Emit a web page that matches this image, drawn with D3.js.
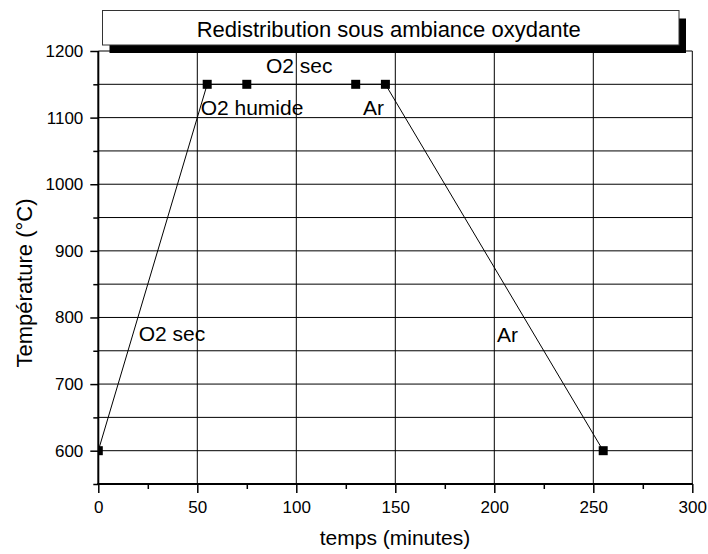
<!DOCTYPE html>
<html>
<head>
<meta charset="utf-8">
<script src="https://cdn.jsdelivr.net/npm/d3@7"></script>
<style>
  html, body { margin: 0; padding: 0; background: #fff; }
  svg { display: block; font-family: "Liberation Sans", Arial, sans-serif; }
</style>
</head>
<body>
<svg id="chart" width="708" height="554"></svg>
<script>
// Thermal cycle: time (minutes) and furnace temperature (°C)
const times = [0, 55, 75, 130, 145, 255];
const temperatures = [600, 1150, 1150, 1150, 1150, 600];

// Axis ticks
const xMajorTicks = [0, 50, 100, 150, 200, 250, 300];
const xMinorTicks = [25, 75, 125, 175, 225, 275];
const yMajorTicks = [600, 700, 800, 900, 1000, 1100, 1200];
const yMinorTicks = [550, 650, 750, 850, 950, 1050, 1150];

// Atmosphere labels placed along the cycle (time, temperature)
const phaseNames = ["O2 sec", "O2 humide", "O2 sec", "Ar", "Ar"];
const phaseTimes = [54, 51.7, 84.7, 133.7, 201.4];
const phaseTemps = [765, 1104, 1167, 1104, 763];
const phaseAnchors = ["end", "start", "start", "start", "start"];

const chartTitle = "Redistribution sous ambiance oxydante";
const xTitle = "temps (minutes)";
const yTitle = "Température (°C)";

const svg = d3.select("#chart");
const margin = { left: 98.3, right: 15.7, top: 51, bottom: 70 };
const W = 708, H = 554;

const x = d3.scaleLinear().domain([0, 300]).range([margin.left, W - margin.right]);
const y = d3.scaleLinear().domain([550, 1200]).range([H - margin.bottom, margin.top]);

// Grid lines at every 50 units
const grid = svg.append("g").attr("stroke", "#000").attr("stroke-width", 1);
grid.selectAll("line.h")
  .data(d3.range(600, 1201, 50))
  .join("line")
  .attr("x1", x(0)).attr("x2", x(300))
  .attr("y1", d => y(d)).attr("y2", d => y(d));
grid.selectAll("line.v")
  .data(d3.range(50, 301, 50))
  .join("line")
  .attr("y1", y(550)).attr("y2", y(1200))
  .attr("x1", d => x(d)).attr("x2", d => x(d));

// Clip marks to the plotting area
svg.append("clipPath").attr("id", "plotClip")
  .append("rect")
  .attr("x", x(0)).attr("y", y(1200))
  .attr("width", x(300) - x(0)).attr("height", y(550) - y(1200));

const pts = times.map((t, i) => ({ t, v: temperatures[i] }));
const plot = svg.append("g").attr("clip-path", "url(#plotClip)");
plot.append("path")
  .datum(pts)
  .attr("fill", "none")
  .attr("stroke", "#000")
  .attr("stroke-width", 1)
  .attr("d", d3.line().x(d => x(d.t)).y(d => y(d.v)));
const ms = 9;
plot.selectAll("rect.marker")
  .data(pts)
  .join("rect")
  .attr("class", "marker")
  .attr("x", d => x(d.t) - ms / 2)
  .attr("y", d => y(d.v) - ms / 2)
  .attr("width", ms).attr("height", ms)
  .attr("fill", "#000");

// Axes
function styleAxis(g, fontSize) {
  g.selectAll("text").attr("font-size", fontSize).attr("fill", "#000")
    .attr("font-family", "'Liberation Sans', Arial, sans-serif");
  g.selectAll("line").attr("stroke", "#000").attr("stroke-width", 1.5);
  g.select(".domain").remove();
}
const fmt = d3.format("d");

const gx = svg.append("g").attr("transform", `translate(0,${y(550)})`)
  .call(d3.axisBottom(x).tickValues(xMajorTicks).tickFormat(fmt).tickSize(9).tickPadding(8).tickSizeOuter(0));
styleAxis(gx, 17);
const gxm = svg.append("g").attr("transform", `translate(0,${y(550)})`)
  .call(d3.axisBottom(x).tickValues(xMinorTicks).tickSize(5).tickFormat("").tickSizeOuter(0));
styleAxis(gxm, 17);

const gy = svg.append("g").attr("transform", `translate(${x(0)},0)`)
  .call(d3.axisLeft(y).tickValues(yMajorTicks).tickFormat(fmt).tickSize(8).tickPadding(7).tickSizeOuter(0));
styleAxis(gy, 17);
const gym = svg.append("g").attr("transform", `translate(${x(0)},0)`)
  .call(d3.axisLeft(y).tickValues(yMinorTicks).tickSize(5).tickFormat("").tickSizeOuter(0));
styleAxis(gym, 17);

// Axis lines
svg.append("line")
  .attr("x1", x(0)).attr("x2", x(0)).attr("y1", y(550) + 1).attr("y2", y(1200))
  .attr("stroke", "#000").attr("stroke-width", 2);
svg.append("line")
  .attr("x1", x(0) - 1).attr("x2", x(300) + 0.5).attr("y1", y(550)).attr("y2", y(550))
  .attr("stroke", "#000").attr("stroke-width", 2);

// Phase labels
svg.selectAll("text.phase")
  .data(phaseNames)
  .join("text")
  .attr("class", "phase")
  .attr("x", (d, i) => x(phaseTimes[i]))
  .attr("y", (d, i) => y(phaseTemps[i]))
  .attr("text-anchor", (d, i) => phaseAnchors[i])
  .attr("font-size", 21)
  .attr("fill", "#000")
  .text(d => d);

// Axis titles
svg.append("text")
  .attr("x", 395).attr("y", 545)
  .attr("text-anchor", "middle").attr("font-size", 21)
  .text(xTitle);
svg.append("text")
  .attr("transform", "translate(32,283) rotate(-90)")
  .attr("text-anchor", "middle").attr("font-size", 22)
  .text(yTitle);

// Title box with drop shadow
const box = { x: 102.5, y: 10.5, w: 576.5, h: 34.5 };
svg.append("rect")
  .attr("x", box.x + 7).attr("y", box.y + 8)
  .attr("width", box.w).attr("height", box.h)
  .attr("fill", "#000");
svg.append("rect")
  .attr("x", box.x).attr("y", box.y)
  .attr("width", box.w).attr("height", box.h)
  .attr("fill", "#fff").attr("stroke", "#333").attr("stroke-width", 1);
svg.append("text")
  .attr("x", box.x + box.w / 2 - 2).attr("y", box.y + 26)
  .attr("text-anchor", "middle").attr("font-size", 22)
  .text(chartTitle);
</script>
</body>
</html>
